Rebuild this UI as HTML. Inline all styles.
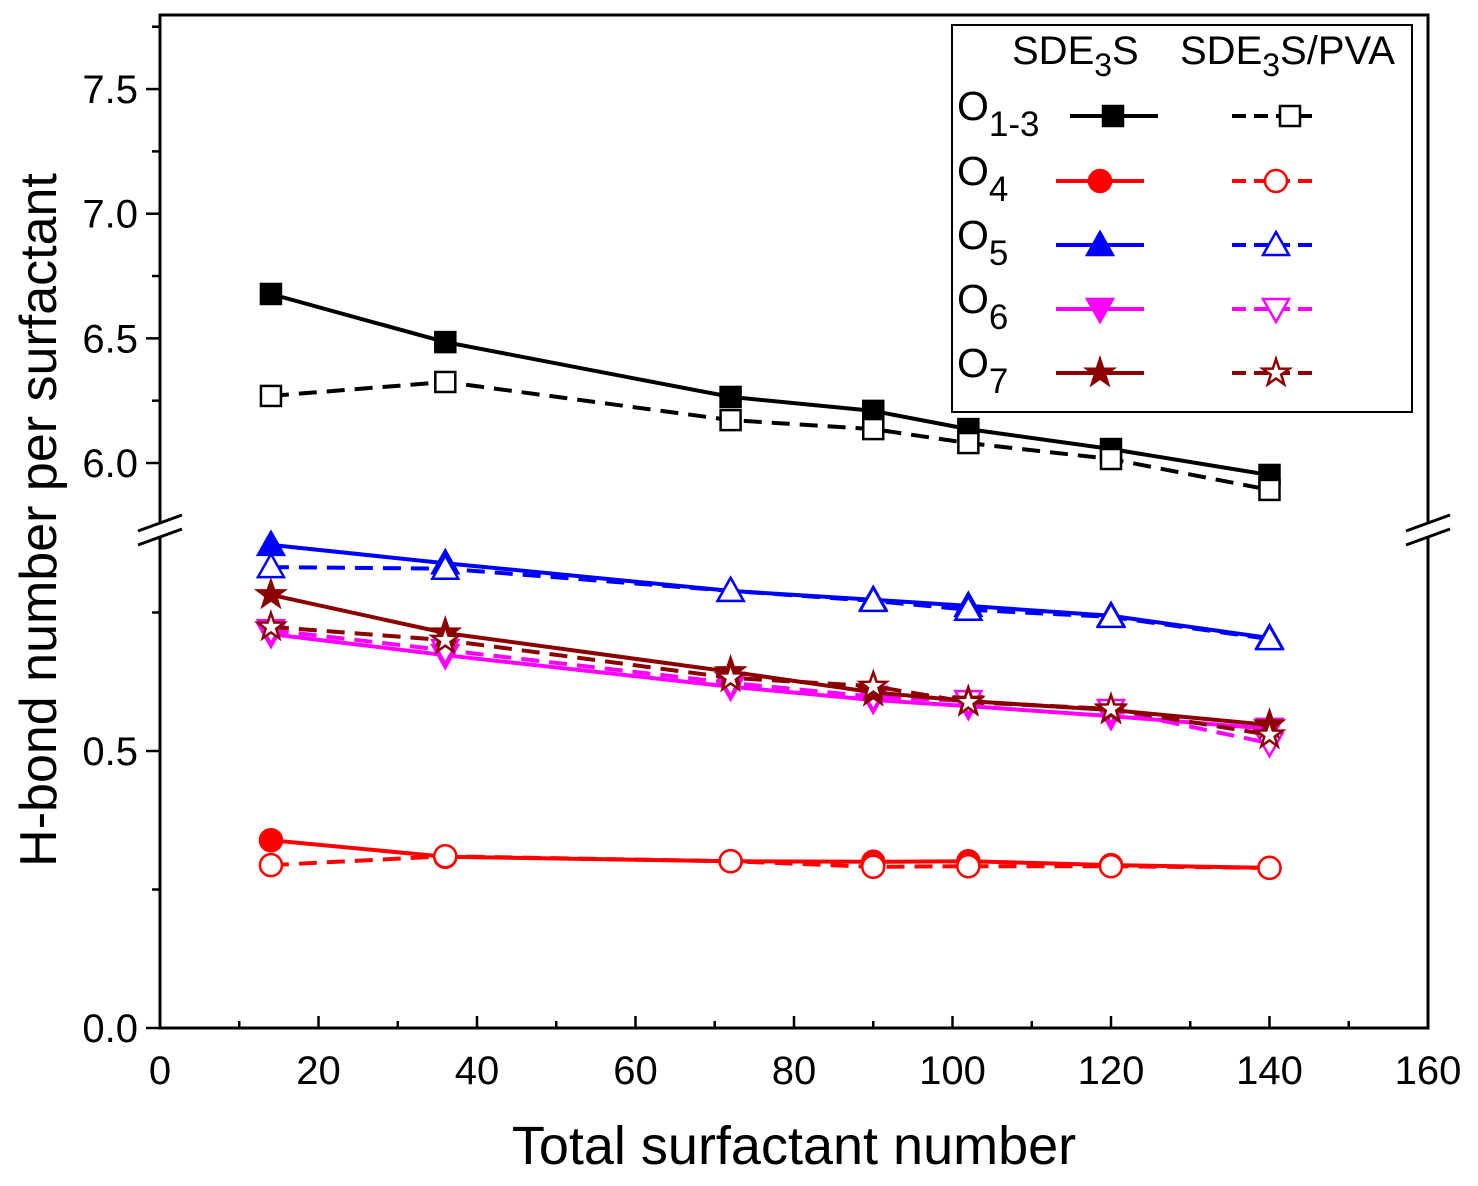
<!DOCTYPE html>
<html><head><meta charset="utf-8"><style>body{margin:0;background:#fff}svg{display:block}</style></head>
<body>
<svg id="chart" width="1478" height="1186" xmlns="http://www.w3.org/2000/svg" font-family="Liberation Sans, Arial, sans-serif">
<g id="plot"></g>
</svg>
<script>
const xs = [14, 36, 72, 90, 102, 120, 140];
const o13Solid = [6.678, 6.485, 6.265, 6.209, 6.136, 6.056, 5.952];
const o13Dash = [6.269, 6.325, 6.172, 6.136, 6.080, 6.016, 5.892];
const o4Solid = [0.339, 0.309, 0.301, 0.300, 0.301, 0.294, 0.289];
const o4Dash = [0.294, 0.310, 0.301, 0.291, 0.292, 0.292, 0.289];
const o5Solid = [0.872, 0.839, 0.789, 0.773, 0.762, 0.744, 0.704];
const o5Dash = [0.832, 0.829, 0.789, 0.771, 0.755, 0.742, 0.702];
const o6Solid = [0.711, 0.673, 0.616, 0.592, 0.581, 0.563, 0.540];
const o6Dash = [0.718, 0.682, 0.623, 0.598, 0.590, 0.574, 0.514];
const o7Solid = [0.782, 0.713, 0.643, 0.606, 0.590, 0.574, 0.547];
const o7Dash = [0.724, 0.700, 0.632, 0.617, 0.588, 0.576, 0.529];
const xTicks = [0, 20, 40, 60, 80, 100, 120, 140, 160];
const yTicksLow = [0.0, 0.5];
const yTicksHigh = [6.0, 6.5, 7.0, 7.5];

const NS = "http://www.w3.org/2000/svg";
const g = document.getElementById('plot');
const L = 160, R = 1428, T = 15, B = 1028, BRK = 530;
const X = v => L + (v / 160) * (R - L);
const Y = v => v < 3 ? B - v * 554 : 463 - (v - 6) * 249.3;
function el(tag, attrs, parent) {
  const e = document.createElementNS(NS, tag);
  for (const k in attrs) e.setAttribute(k, attrs[k]);
  (parent || g).appendChild(e);
  return e;
}
let f = el('path', {d:`M${L} ${T}H${R}V${B}H${L}Z`, fill:'none', stroke:'#000', 'stroke-width':3});


[L, R].forEach((x, i) => {
  const bg = el('rect', {x:x-6, y:BRK-8, width:12, height:16, fill:'#fff'});
  
  
  [-7, 7].forEach(d => {
    const b = el('line', {x1:x-22, y1:BRK+d+8, x2:x+22, y2:BRK+d-8, stroke:'#000', 'stroke-width':3});
    
    
  });
});
for (let v = 0; v <= 160; v += 10) {
  const major = v % 20 === 0;
  const t = el('line', {x1:X(v), y1:B, x2:X(v), y2:B-(major?12:7), stroke:'#000', 'stroke-width':2.5});
  
  
}
xTicks.forEach(v => {
  const t = el('text', {x:X(v), y:1084, 'font-size':40, 'text-anchor':'middle'});
  t.textContent = v;
  
  
});
[0, 0.25, 0.5, 0.75].forEach(v => {
  const major = v % 0.5 === 0;
  const t = el('line', {x1:L, y1:Y(v), x2:L-(major?14:8), y2:Y(v), stroke:'#000', 'stroke-width':2.5});
  
  
});
[6.0, 6.25, 6.5, 6.75, 7.0, 7.25, 7.5, 7.75].forEach(v => {
  const major = (v * 4) % 2 === 0;
  const t = el('line', {x1:L, y1:Y(v), x2:L-(major?14:8), y2:Y(v), stroke:'#000', 'stroke-width':2.5});
  
  
});
yTicksLow.concat(yTicksHigh).forEach(v => {
  const t = el('text', {x:138, y:Y(v)+14, 'font-size':40, 'text-anchor':'end'});
  t.textContent = v.toFixed(1);
  
  
});
let xt = el('text', {x:794, y:1164, 'font-size':54, 'text-anchor':'middle'});
xt.textContent = 'Total surfactant number';


let yt = el('text', {x:0, y:0, 'font-size':52, 'text-anchor':'middle', transform:'translate(56,520) rotate(-90)'});
yt.textContent = 'H-bond number per surfactant';



function marker(shape, filled, color, cx, cy, parent) {
  const fill = filled ? color : '#fff';
  const a = {fill:fill, stroke:color, 'stroke-width':2.5};
  let m;
  if (shape === 'sq') m = el('rect', Object.assign({x:cx-10, y:cy-10, width:20, height:20}, a), parent);
  else if (shape === 'ci') m = el('circle', Object.assign({cx:cx, cy:cy, r:11}, a), parent);
  else if (shape === 'up') m = el('path', Object.assign({d:`M${cx} ${cy-13}L${cx+13} ${cy+10}L${cx-13} ${cy+10}Z`}, a), parent);
  else if (shape === 'dn') m = el('path', Object.assign({d:`M${cx} ${cy+13}L${cx+13} ${cy-10}L${cx-13} ${cy-10}Z`}, a), parent);
  else {
    let d = '';
    for (let i = 0; i < 10; i++) {
      const r = i % 2 ? 5.5 : 14, ang = -Math.PI/2 + i*Math.PI/5;
      d += (i ? 'L' : 'M') + (cx + r*Math.cos(ang)).toFixed(1) + ' ' + (cy + r*Math.sin(ang)).toFixed(1);
    }
    m = el('path', Object.assign({d:d + 'Z'}, a), parent);
  }
  return m;
}
const series = [
  {name:'o13-sdes', vals:o13Solid, color:'#000', shape:'sq', filled:true, dash:false},
  {name:'o13-pva', vals:o13Dash, color:'#000', shape:'sq', filled:false, dash:true},
  {name:'o4-sdes', vals:o4Solid, color:'#ff0000', shape:'ci', filled:true, dash:false},
  {name:'o4-pva', vals:o4Dash, color:'#ff0000', shape:'ci', filled:false, dash:true},
  {name:'o5-sdes', vals:o5Solid, color:'#0000ff', shape:'up', filled:true, dash:false},
  {name:'o5-pva', vals:o5Dash, color:'#0000ff', shape:'up', filled:false, dash:true},
  {name:'o6-sdes', vals:o6Solid, color:'#ff00ff', shape:'dn', filled:true, dash:false},
  {name:'o6-pva', vals:o6Dash, color:'#ff00ff', shape:'dn', filled:false, dash:true},
  {name:'o7-sdes', vals:o7Solid, color:'#8b0000', shape:'st', filled:true, dash:false},
  {name:'o7-pva', vals:o7Dash, color:'#8b0000', shape:'st', filled:false, dash:true},
];
series.forEach(s => {
  const grp = el('g', {});
  
  
  const d = s.vals.map((v, i) => (i ? 'L' : 'M') + X(xs[i]).toFixed(1) + ' ' + Y(v).toFixed(1)).join('');
  const ln = el('path', {d:d, fill:'none', stroke:s.color, 'stroke-width':4, 'stroke-dasharray':s.dash ? '18 10' : 'none'}, grp);
  
  
  s.vals.forEach((v, i) => {
    const m = marker(s.shape, s.filled, s.color, X(xs[i]), Y(v), grp);
    
    
  });
});
const lg = el('g', {});


let lb = el('rect', {x:952, y:25, width:460, height:387, fill:'#fff', stroke:'#000', 'stroke-width':2}, lg);


let h1 = el('text', {x:1012, y:64, 'font-size':40}, lg);
h1.innerHTML = 'SDE<tspan font-size="32" dy="12">3</tspan><tspan dy="-12">S</tspan>';


let h2 = el('text', {x:1180, y:64, 'font-size':40}, lg);
h2.innerHTML = 'SDE<tspan font-size="32" dy="12">3</tspan><tspan dy="-12">S/PVA</tspan>';


const labels = [['1-3', 116], ['4', 181], ['5', 245], ['6', 309], ['7', 373]];
labels.forEach((lab, k) => {
  const y = lab[1];
  const t = el('text', {x:957, y:y+4, 'font-size':41}, lg);
  t.innerHTML = 'O<tspan font-size="35" dy="16">' + lab[0] + '</tspan>';
  
  
  const sA = series[2*k], sB = series[2*k+1];
  const x1 = k === 0 ? 1070 : 1056;
  const la = el('line', {x1:x1, y1:y, x2:1158 - (k?14:0), y2:y, stroke:sA.color, 'stroke-width':4}, lg);
  
  
  const ma = marker(sA.shape, true, sA.color, k === 0 ? 1113 : 1100, y, lg);
  
  
  const lb2 = el('line', {x1:1232, y1:y, x2:1318, y2:y, stroke:sB.color, 'stroke-width':4, 'stroke-dasharray':'14 8'}, lg);
  
  
  const mb = marker(sB.shape, false, sB.color, k === 0 ? 1290 : 1276, y, lg);
  
  
});
</script>
</body></html>
